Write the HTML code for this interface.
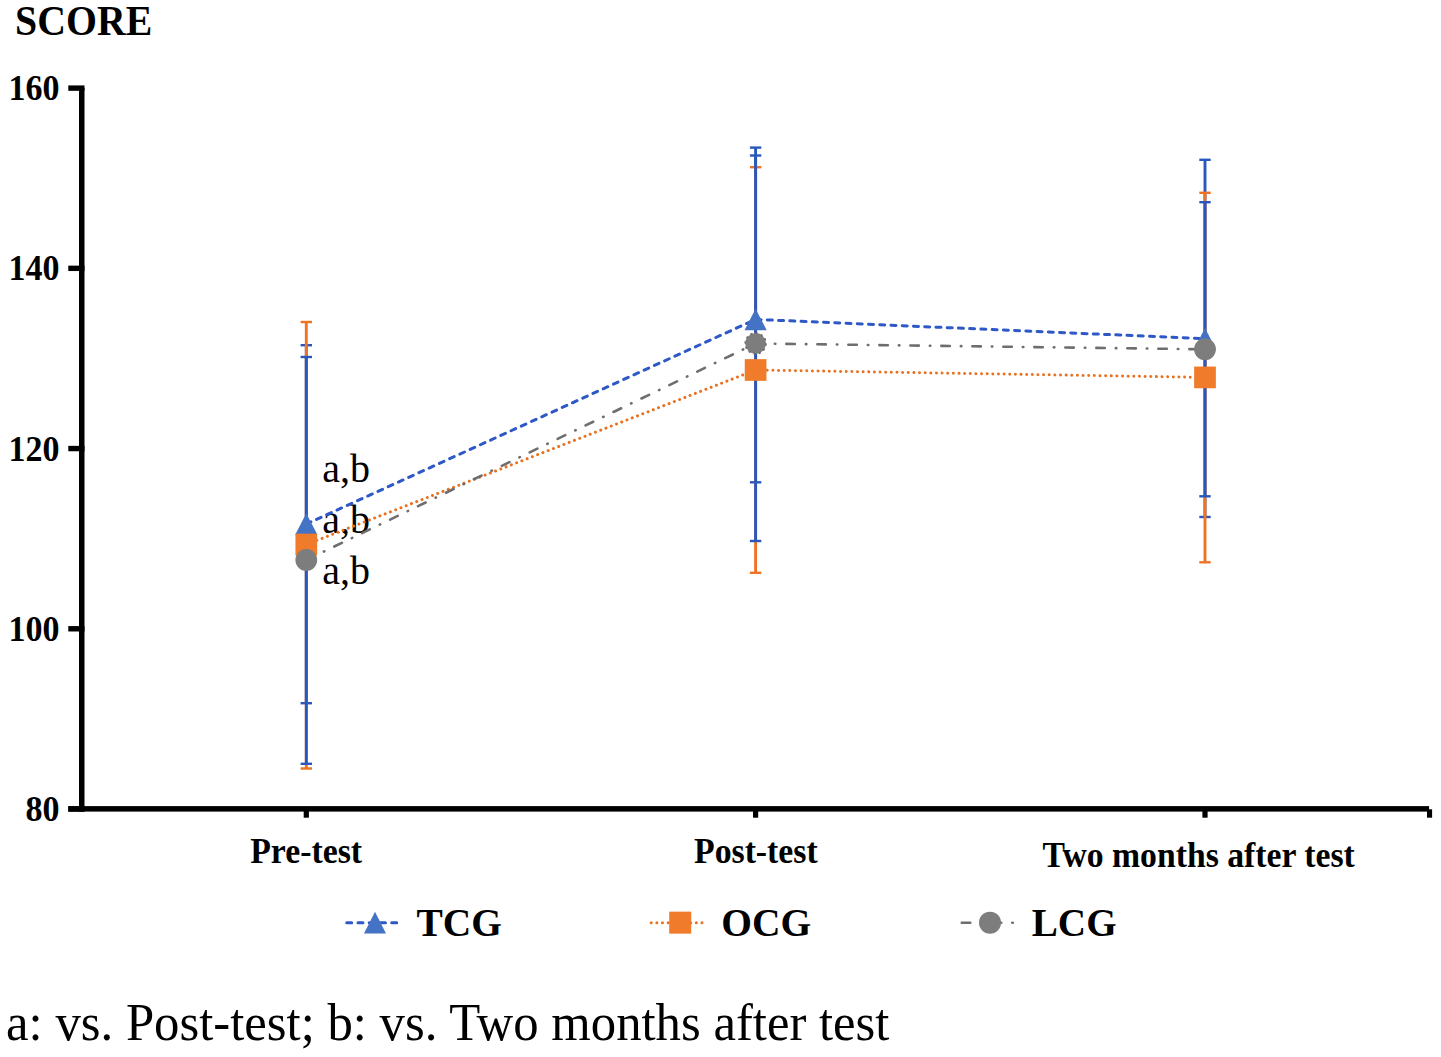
<!DOCTYPE html><html><head><meta charset="utf-8"><style>html,body{margin:0;padding:0;background:#fff;}svg{display:block;}</style></head><body>
<svg width="1441" height="1057" viewBox="0 0 1441 1057">
<rect width="1441" height="1057" fill="#fff"/>
<text transform="translate(15.1,34.8) scale(1,1.038)" x="0" y="0" font-family="Liberation Serif" font-weight="bold" font-size="39.8" fill="#000">SCORE</text>
<text transform="translate(59.6,100.07) scale(1,1.055)" x="0" y="0" font-family="Liberation Serif" font-weight="bold" font-size="34" text-anchor="end" fill="#000">160</text>
<rect x="68.3" y="85.42" width="16.2" height="5.4" fill="#000"/>
<text transform="translate(59.6,280.29) scale(1,1.055)" x="0" y="0" font-family="Liberation Serif" font-weight="bold" font-size="34" text-anchor="end" fill="#000">140</text>
<rect x="68.3" y="265.64" width="16.2" height="5.4" fill="#000"/>
<text transform="translate(59.6,460.51) scale(1,1.055)" x="0" y="0" font-family="Liberation Serif" font-weight="bold" font-size="34" text-anchor="end" fill="#000">120</text>
<rect x="68.3" y="445.86" width="16.2" height="5.4" fill="#000"/>
<text transform="translate(59.6,640.73) scale(1,1.055)" x="0" y="0" font-family="Liberation Serif" font-weight="bold" font-size="34" text-anchor="end" fill="#000">100</text>
<rect x="68.3" y="626.08" width="16.2" height="5.4" fill="#000"/>
<text transform="translate(59.6,820.95) scale(1,1.055)" x="0" y="0" font-family="Liberation Serif" font-weight="bold" font-size="34" text-anchor="end" fill="#000">80</text>
<rect x="68.3" y="806.30" width="16.2" height="5.4" fill="#000"/>
<rect x="79" y="88" width="5.5" height="723.6" fill="#000"/>
<rect x="68.3" y="806.1" width="1360.8" height="5.5" fill="#000"/>
<rect x="303.70" y="808" width="5.2" height="9.7" fill="#000"/>
<rect x="753.00" y="808" width="5.2" height="9.7" fill="#000"/>
<rect x="1202.40" y="808" width="5.2" height="9.7" fill="#000"/>
<rect x="1427" y="809.3" width="5.1" height="8.4" fill="#000"/>
<text transform="translate(306.1,862.9) scale(1,1.05)" x="0" y="0" font-family="Liberation Serif" font-weight="bold" font-size="33.8" text-anchor="middle" fill="#000">Pre-test</text>
<text transform="translate(755.85,862.8) scale(1,1.05)" x="0" y="0" font-family="Liberation Serif" font-weight="bold" font-size="33.75" text-anchor="middle" fill="#000">Post-test</text>
<text transform="translate(1198.6,866.8) scale(1,1.05)" x="0" y="0" font-family="Liberation Serif" font-weight="bold" font-size="33.7" text-anchor="middle" fill="#000">Two months after test</text>
<text transform="translate(322.2,481.6) scale(1,1.0)" x="0" y="0" font-family="Liberation Serif" font-size="40" fill="#000">a,b</text>
<text transform="translate(322.2,532.6) scale(1,1.0)" x="0" y="0" font-family="Liberation Serif" font-size="40" fill="#000">a,b</text>
<text transform="translate(322.2,583.7) scale(1,1.0)" x="0" y="0" font-family="Liberation Serif" font-size="40" fill="#000">a,b</text>
<line x1="306.3" y1="345.2" x2="306.3" y2="703.2" stroke="#2A57BC" stroke-width="2.9"/><line x1="300.60" y1="345.2" x2="312.00" y2="345.2" stroke="#2A57BC" stroke-width="2.4"/><line x1="300.60" y1="703.2" x2="312.00" y2="703.2" stroke="#2A57BC" stroke-width="2.4"/>
<line x1="306.3" y1="322.0" x2="306.3" y2="768.5" stroke="#EE7322" stroke-width="2.9"/><line x1="300.60" y1="322.0" x2="312.00" y2="322.0" stroke="#EE7322" stroke-width="2.4"/><line x1="300.60" y1="768.5" x2="312.00" y2="768.5" stroke="#EE7322" stroke-width="2.4"/>
<line x1="306.3" y1="357.0" x2="306.3" y2="763.8" stroke="#2A57BC" stroke-width="2.9"/><line x1="300.60" y1="357.0" x2="312.00" y2="357.0" stroke="#2A57BC" stroke-width="2.4"/><line x1="300.60" y1="763.8" x2="312.00" y2="763.8" stroke="#2A57BC" stroke-width="2.4"/>
<line x1="755.6" y1="155.5" x2="755.6" y2="482.3" stroke="#2A57BC" stroke-width="2.9"/><line x1="749.90" y1="155.5" x2="761.30" y2="155.5" stroke="#2A57BC" stroke-width="2.4"/><line x1="749.90" y1="482.3" x2="761.30" y2="482.3" stroke="#2A57BC" stroke-width="2.4"/>
<line x1="755.6" y1="167.2" x2="755.6" y2="572.8" stroke="#EE7322" stroke-width="2.9"/><line x1="749.90" y1="167.2" x2="761.30" y2="167.2" stroke="#EE7322" stroke-width="2.4"/><line x1="749.90" y1="572.8" x2="761.30" y2="572.8" stroke="#EE7322" stroke-width="2.4"/>
<line x1="755.6" y1="147.6" x2="755.6" y2="541.0" stroke="#2A57BC" stroke-width="2.9"/><line x1="749.90" y1="147.6" x2="761.30" y2="147.6" stroke="#2A57BC" stroke-width="2.4"/><line x1="749.90" y1="541.0" x2="761.30" y2="541.0" stroke="#2A57BC" stroke-width="2.4"/>
<line x1="1205.0" y1="159.8" x2="1205.0" y2="517.0" stroke="#2A57BC" stroke-width="2.9"/><line x1="1199.30" y1="159.8" x2="1210.70" y2="159.8" stroke="#2A57BC" stroke-width="2.4"/><line x1="1199.30" y1="517.0" x2="1210.70" y2="517.0" stroke="#2A57BC" stroke-width="2.4"/>
<line x1="1205.0" y1="192.8" x2="1205.0" y2="562.3" stroke="#EE7322" stroke-width="2.9"/><line x1="1199.30" y1="192.8" x2="1210.70" y2="192.8" stroke="#EE7322" stroke-width="2.4"/><line x1="1199.30" y1="562.3" x2="1210.70" y2="562.3" stroke="#EE7322" stroke-width="2.4"/>
<line x1="1205.0" y1="202.2" x2="1205.0" y2="496.3" stroke="#2A57BC" stroke-width="2.9"/><line x1="1199.30" y1="202.2" x2="1210.70" y2="202.2" stroke="#2A57BC" stroke-width="2.4"/><line x1="1199.30" y1="496.3" x2="1210.70" y2="496.3" stroke="#2A57BC" stroke-width="2.4"/>
<line x1="306.3" y1="524.0" x2="755.6" y2="319.4" stroke="#2E58C6" stroke-width="3" stroke-dasharray="5 6.25" stroke-linecap="round"/><line x1="755.6" y1="319.4" x2="1205.0" y2="338.7" stroke="#2E58C6" stroke-width="3" stroke-dasharray="5 6.25" stroke-dashoffset="494.49" stroke-linecap="round"/>
<line x1="306.3" y1="544.5" x2="755.6" y2="370.0" stroke="#E8701E" stroke-width="3" stroke-dasharray="0.01 5.63" stroke-linecap="round"/><line x1="755.6" y1="370.0" x2="1205.0" y2="377.4" stroke="#E8701E" stroke-width="3" stroke-dasharray="0.01 5.63" stroke-dashoffset="479.00" stroke-linecap="round"/>
<line x1="306.3" y1="560.0" x2="755.6" y2="343.5" stroke="#6E6E6E" stroke-width="2.6" stroke-dasharray="8.5 11 0.5 11" stroke-linecap="round"/><line x1="755.6" y1="343.5" x2="1205.0" y2="349.3" stroke="#6E6E6E" stroke-width="2.6" stroke-dasharray="8.5 11 0.5 11" stroke-dashoffset="496.24" stroke-linecap="round"/>
<polygon points="295.20,534.75 306.30,513.25 317.40,534.75" fill="#4472C4"/>
<rect x="295.45" y="533.65" width="21.7" height="21.7" fill="#EF7B2B"/>
<circle cx="306.3" cy="560.0" r="10.9" fill="#7D7D7D"/>
<polygon points="744.50,330.15 755.60,308.65 766.70,330.15" fill="#4472C4"/>
<rect x="744.75" y="359.15" width="21.7" height="21.7" fill="#EF7B2B"/>
<circle cx="755.6" cy="343.5" r="10.4" fill="#7D7D7D" stroke="#6A6A6A" stroke-width="1.6" stroke-dasharray="2.2 3.2"/>
<polygon points="1193.90,349.45 1205.00,327.95 1216.10,349.45" fill="#4472C4"/>
<rect x="1194.15" y="366.55" width="21.7" height="21.7" fill="#EF7B2B"/>
<circle cx="1205.0" cy="349.3" r="10.9" fill="#7D7D7D"/>
<line x1="345.2" y1="922.7" x2="398.6" y2="922.7" stroke="#2E58C6" stroke-width="3" stroke-dasharray="5 6.25" stroke-dashoffset="-1.5" stroke-linecap="round"/>
<polygon points="364.00,933.50 375.00,911.80 386.00,933.50" fill="#4472C4"/>
<text transform="translate(416.4,936.3) scale(1,1.025)" x="0" y="0" font-family="Liberation Serif" font-weight="bold" font-size="39.45" fill="#000">TCG</text>
<line x1="651.2" y1="922.7" x2="704" y2="922.7" stroke="#E8701E" stroke-width="3" stroke-dasharray="0.01 5.63" stroke-linecap="round"/>
<rect x="669.20" y="911.65" width="22" height="22" fill="#EF7B2B"/>
<text transform="translate(721.2,936.3) scale(1,1.025)" x="0" y="0" font-family="Liberation Serif" font-weight="bold" font-size="39.5" fill="#000">OCG</text>
<line x1="961.8" y1="922.7" x2="1014" y2="922.7" stroke="#6E6E6E" stroke-width="2.6" stroke-dasharray="8.5 11 0.5 11" stroke-linecap="round"/>
<circle cx="990.0" cy="922.65" r="11" fill="#7D7D7D"/>
<text transform="translate(1031.7,936.3) scale(1,1.025)" x="0" y="0" font-family="Liberation Serif" font-weight="bold" font-size="39.2" fill="#000">LCG</text>
<text transform="translate(6.1,1040.2) scale(1,1.025)" x="0" y="0" font-family="Liberation Serif" font-size="50.75" fill="#000">a: vs. Post-test; b: vs. Two months after test</text>
</svg></body></html>
